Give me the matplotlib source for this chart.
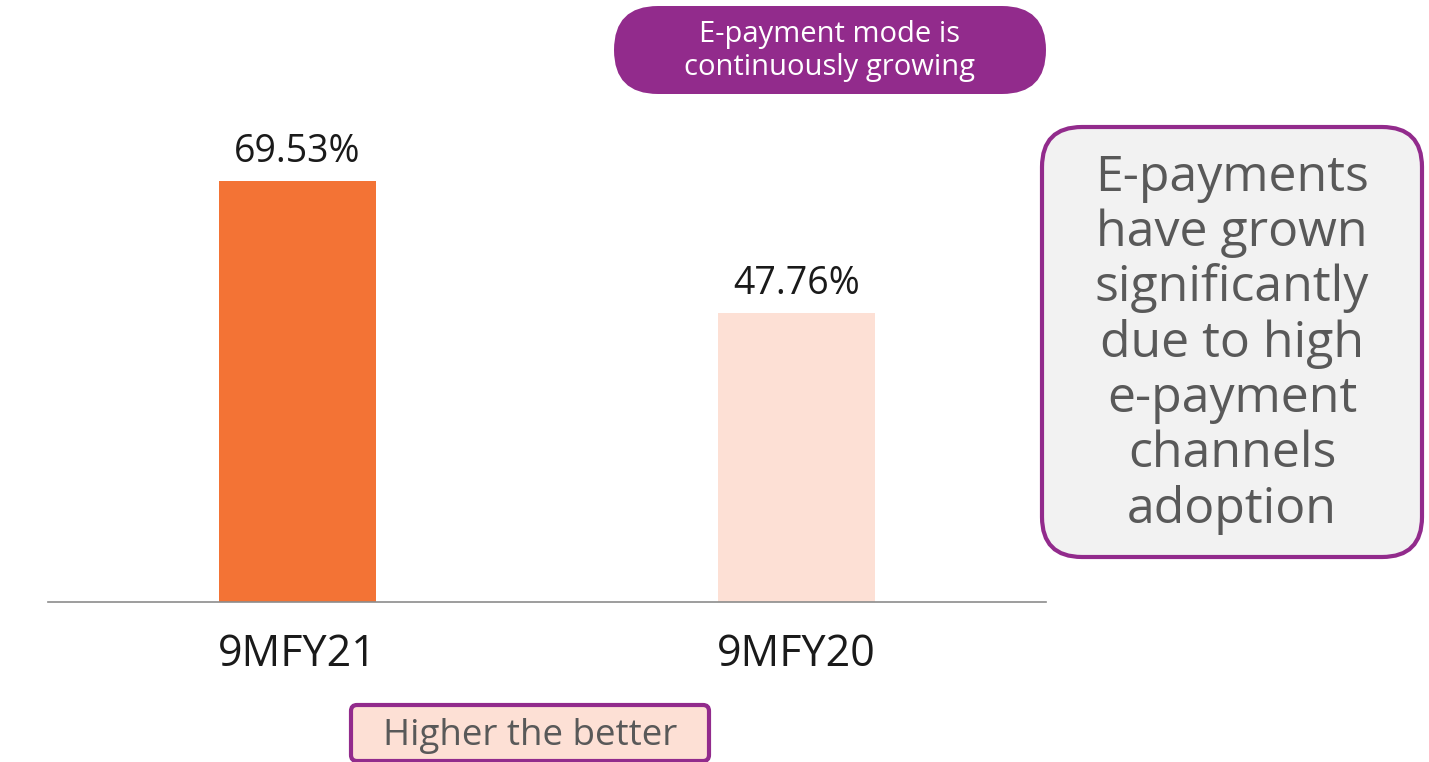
import matplotlib
matplotlib.use("Agg")
import matplotlib.pyplot as plt
from matplotlib.patches import FancyBboxPatch

categories = ["9MFY21", "9MFY20"]
values = [69.53, 47.76]
value_labels = ["69.53%", "47.76%"]
bar_colors = ["#F37335", "#FDE0D5"]
pill_text = "E-payment mode is\ncontinuously growing"
box_text = "E-payments\nhave grown\nsignificantly\ndue to high\ne-payment\nchannels\nadoption"
bottom_text = "Higher the better"

plt.rcParams['font.family'] = ['Open Sans', 'DejaVu Sans']

W, H = 1429, 762
fig = plt.figure(figsize=(W / 100, H / 100), dpi=100)

def fx(px):
    return px / W

def fy(py):
    return 1 - py / H

ax = fig.add_axes([fx(48), fy(602), fx(1046) - fx(48), fy(57) - fy(602)])
x = list(range(len(categories)))
ax.bar(x, values, width=0.314, color=bar_colors)
ax.set_xlim(-0.5, 1.5)
ax.set_ylim(0, 90)
for xi, v, lab in zip(x, values, value_labels):
    ax.annotate(lab, (xi, v), xytext=(0, 21), textcoords="offset points",
                ha="center", va="center", fontsize=27, color="#1a1a1a")
ax.set_xticks(x)
ax.set_xticklabels(categories, fontsize=31, color="#1a1a1a")
ax.tick_params(axis="x", length=0, pad=22)
ax.set_yticks([])
for s in ["top", "right", "left"]:
    ax.spines[s].set_visible(False)
ax.spines["bottom"].set_color("#8c8c8c")
ax.spines["bottom"].set_linewidth(1.2)

purple = "#922B8C"

def rbox(x0, y0, x1, y1, fc, ec, lw, rad):
    w = fx(x1) - fx(x0)
    h = fy(y0) - fy(y1)
    p = FancyBboxPatch((fx(x0), fy(y1)), w, h,
                       boxstyle=f"round,pad=0,rounding_size={rad / W}",
                       transform=fig.transFigure, fc=fc, ec=ec, lw=lw,
                       mutation_aspect=W / H, clip_on=False)
    fig.add_artist(p)

# top pill
rbox(614, 6, 1046, 94, purple, "none", 0, 44)
fig.text(fx(830), fy(51), pill_text, ha="center", va="center",
         fontsize=21, color="white", linespacing=1.17)

# right box
rbox(1042, 127, 1422, 557, "#F2F2F2", purple, 3, 40)
fig.text(fx(1232), fy(344), box_text, ha="center", va="center",
         fontsize=36, color="#595959", linespacing=1.15)

# bottom box
rbox(351, 705, 709, 761, "#FDE0D5", purple, 3, 6)
fig.text(fx(530), fy(736), bottom_text, ha="center", va="center",
         fontsize=26.5, color="#595959")

fig.savefig("out.png", dpi=100)
